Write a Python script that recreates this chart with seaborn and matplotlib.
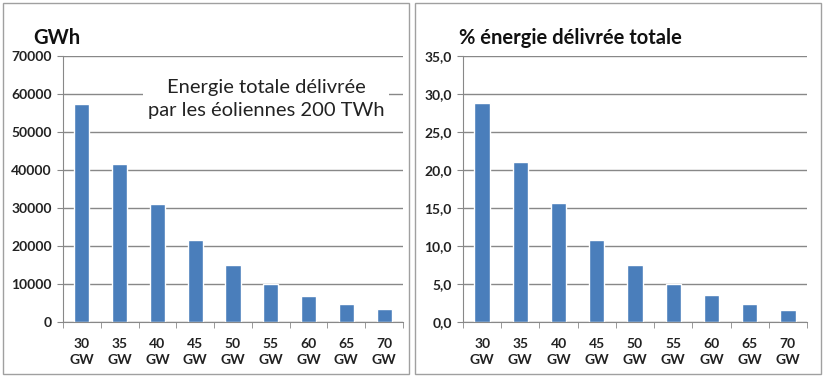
import matplotlib
matplotlib.use("Agg")
import matplotlib.pyplot as plt
import seaborn as sns
import pandas as pd
from matplotlib.patches import Rectangle

categories = ["30\nGW", "35\nGW", "40\nGW", "45\nGW", "50\nGW", "55\nGW", "60\nGW", "65\nGW", "70\nGW"]
energy_gwh = [57500, 41600, 31100, 21600, 15000, 10000, 6800, 4750, 3250]
pct_total = [28.9, 21.0, 15.6, 10.8, 7.5, 5.0, 3.5, 2.4, 1.6]
left_ticks = [0, 10000, 20000, 30000, 40000, 50000, 60000, 70000]
right_ticks = [0, 5, 10, 15, 20, 25, 30, 35]
right_tick_labels = ["0,0", "5,0", "10,0", "15,0", "20,0", "25,0", "30,0", "35,0"]

sns.set_style("white")
plt.rcParams['font.family'] = ['Lato', 'DejaVu Sans']

df_left = pd.DataFrame({"cat": categories, "val": energy_gwh})
df_right = pd.DataFrame({"cat": categories, "val": pct_total})

fig = plt.figure(figsize=(8.24, 3.76), dpi=100)
W, H = 824, 376

# panel frames
for x0, x1 in [(3, 409), (415, 821)]:
    fig.patches.append(Rectangle((x0 / W, 2 / H), (x1 - x0) / W, (373 - 2) / H,
                                 transform=fig.transFigure, fill=False,
                                 edgecolor="#a0a0a0", linewidth=1.0))

blue = "#4a7ebb"
grid_c = "#888888"

def style(ax, ymax, ticks, labels):
    ax.set_ylim(0, ymax)
    ax.set_xlim(-0.5, 8.5)
    ax.set_yticks(ticks)
    ax.set_yticklabels(labels, fontsize=10, fontweight="bold", color="#222222")
    ax.set_xticks(range(9))
    ax.set_xticklabels(categories, fontsize=10, fontweight="bold", color="#222222", linespacing=1.4)
    ax.yaxis.grid(True, color=grid_c, linewidth=1.0)
    ax.set_axisbelow(True)
    for s in ["top", "right"]:
        ax.spines[s].set_visible(False)
    ax.spines["left"].set_color(grid_c)
    ax.spines["bottom"].set_color(grid_c)
    ax.tick_params(axis="y", which="both", left=True, length=4, color=grid_c, pad=4)
    ax.tick_params(axis="x", which="major", bottom=False, pad=8)
    ax.set_xticks([i - 0.5 for i in range(10)], minor=True)
    ax.tick_params(axis="x", which="minor", bottom=True, length=4, color=grid_c)
    ax.set_xlabel("")
    ax.set_ylabel("")

axL = fig.add_axes([63 / W, 1 - 321.7 / H, (403 - 63) / W, (321.7 - 56.3) / H])
sns.barplot(data=df_left, x="cat", y="val", ax=axL, color=blue, width=0.4, saturation=1)
style(axL, 70000, left_ticks, [str(t) for t in left_ticks])

axR = fig.add_axes([463 / W, 1 - 321.7 / H, (807 - 463) / W, (321.7 - 56.3) / H])
sns.barplot(data=df_right, x="cat", y="val", ax=axR, color=blue, width=0.4, saturation=1)
style(axR, 35, right_ticks, right_tick_labels)

fig.text(33 / W, 1 - 38 / H, "GWh", fontsize=14.5, fontweight="bold", va="center", ha="left", color="#111111")
fig.text(459 / W, 1 - 38 / H, "% énergie délivrée totale", fontsize=14.5, fontweight="bold",
         va="center", ha="left", color="#111111")

axL.text(266 / W, 1 - 99 / H, "Energie totale délivrée\npar les éoliennes 200 TWh",
         transform=fig.transFigure, fontsize=14.5, ha="center", va="center", color="#222222",
         linespacing=1.45,
         bbox=dict(facecolor="white", edgecolor="none", pad=3))

fig.savefig("out.png", dpi=100)
